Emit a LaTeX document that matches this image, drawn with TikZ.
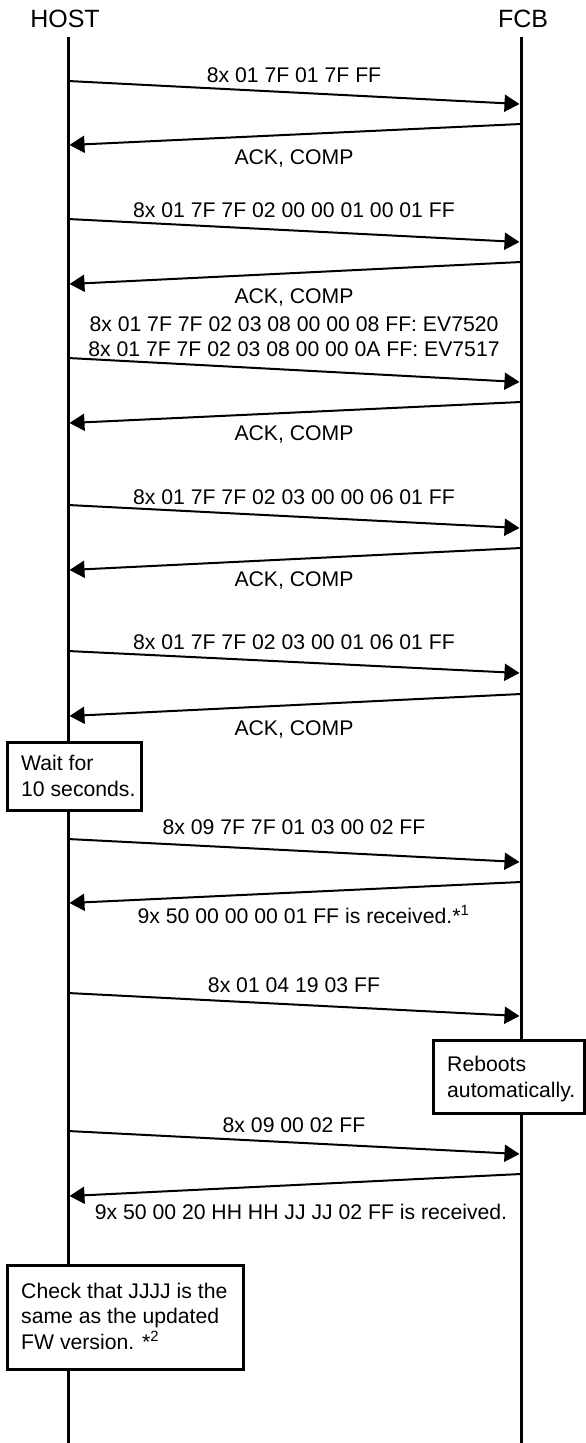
\documentclass[tikz,border=0pt]{standalone}
\usepackage{fontspec}
\setmainfont{Liberation Sans}
\usetikzlibrary{arrows.meta}
\begin{document}
\begin{tikzpicture}[x=1pt,y=-1pt,
  lifeline/.style={line width=3pt},
  msg/.style={line width=2pt,-{Triangle[length=15pt,width=17pt]}},
  lbl/.style={anchor=base,inner sep=0pt,font=\fontsize{21.2}{25}\selectfont},
  ttl/.style={anchor=base,inner sep=0pt,font=\fontsize{25}{29}\selectfont},
  notebox/.style={draw,line width=3pt,fill=white,anchor=north west,inner sep=0pt,outer sep=0pt},
  notetext/.style={anchor=base west,inner sep=0pt,font=\fontsize{21.2}{25}\selectfont}]
\useasboundingbox (0,0) rectangle (586,1443);

% participants
\node[ttl] (host) at (65,27) {HOST};
\node[ttl] (fcb) at (523,27) {FCB};
\coordinate (htop) at (68,37);
\coordinate (hbot) at (68,1443);
\coordinate (ftop) at (521,37);
\coordinate (fbot) at (521,1443);
\draw[lifeline] (htop) -- (hbot);
\draw[lifeline] (ftop) -- (fbot);

% notes
\node[notebox,minimum width=133.5,minimum height=67.5] (wait) at (7.5,742.5) {};
\node[notetext] (wait1) at (21,770) {Wait for};
\node[notetext] (wait2) at (21,796) {10 seconds.};

\node[notebox,minimum width=151,minimum height=73] (reboot) at (433.5,1040) {};
\node[notetext] (reboot1) at (447,1071) {Reboots};
\node[notetext] (reboot2) at (447,1097) {automatically.};

\node[notebox,minimum width=235.5,minimum height=104] (check) at (7.5,1265) {};
\node[notetext] (check1) at (21,1298) {Check that JJJJ is the};
\node[notetext] (check2) at (21,1323.5) {same as the updated};
\node[notetext] (check3) at (21,1349) {FW version. *\textsuperscript{2}};

% messages
\coordinate (h1) at (68,81);    \coordinate (f1) at (519.5,104);
\coordinate (f2) at (521,124);  \coordinate (h2) at (69.5,145);
\coordinate (h3) at (68,219);   \coordinate (f3) at (519.5,242);
\coordinate (f4) at (521,262);  \coordinate (h4) at (69.5,284);
\coordinate (h5) at (68,358);   \coordinate (f5) at (519.5,382);
\coordinate (f6) at (521,402);  \coordinate (h6) at (69.5,423);
\coordinate (h7) at (68,505);   \coordinate (f7) at (519.5,528);
\coordinate (f8) at (521,548);  \coordinate (h8) at (69.5,570);
\coordinate (h9) at (68,651);   \coordinate (f9) at (519.5,673);
\coordinate (f10) at (521,694); \coordinate (h10) at (69.5,716);
\coordinate (h11) at (68,839);  \coordinate (f11) at (519.5,862);
\coordinate (f12) at (521,882); \coordinate (h12) at (69.5,903);
\coordinate (h13) at (68,993);  \coordinate (f13) at (519.5,1016);
\coordinate (h14) at (68,1131); \coordinate (f14) at (519.5,1154);
\coordinate (f15) at (521,1174);\coordinate (h15) at (69.5,1196);

\draw[msg] (h1) -- (f1);
\draw[msg] (f2) -- (h2);
\draw[msg] (h3) -- (f3);
\draw[msg] (f4) -- (h4);
\draw[msg] (h5) -- (f5);
\draw[msg] (f6) -- (h6);
\draw[msg] (h7) -- (f7);
\draw[msg] (f8) -- (h8);
\draw[msg] (h9) -- (f9);
\draw[msg] (f10) -- (h10);
\draw[msg] (h11) -- (f11);
\draw[msg] (f12) -- (h12);
\draw[msg] (h13) -- (f13);
\draw[msg] (h14) -- (f14);
\draw[msg] (f15) -- (h15);

% labels
\node[lbl] (l1) at (294,82) {8x 01 7F 01 7F FF};
\node[lbl] (l2) at (294,164) {ACK, COMP};
\node[lbl] (l3) at (294,217) {8x 01 7F 7F 02 00 00 01 00 01 FF};
\node[lbl] (l4) at (294,303) {ACK, COMP};
\node[lbl] (l5a) at (294,331) {8x 01 7F 7F 02 03 08 00 00 08 FF: EV7520};
\node[lbl] (l5b) at (294,356) {8x 01 7F 7F 02 03 08 00 00 0A FF: EV7517};
\node[lbl] (l6) at (294,440) {ACK, COMP};
\node[lbl] (l7) at (294,504) {8x 01 7F 7F 02 03 00 00 06 01 FF};
\node[lbl] (l8) at (294,586) {ACK, COMP};
\node[lbl] (l9) at (294,649) {8x 01 7F 7F 02 03 00 01 06 01 FF};
\node[lbl] (l10) at (294,735) {ACK, COMP};
\node[lbl] (l11) at (294,834) {8x 09 7F 7F 01 03 00 02 FF};
\node[lbl] (l12) at (303.5,923) {9x 50 00 00 00 01 FF is received.*\textsuperscript{1}};
\node[lbl] (l13) at (294,992) {8x 01 04 19 03 FF};
\node[lbl] (l14) at (294,1132) {8x 09 00 02 FF};
\node[lbl] (l15) at (301,1219) {9x 50 00 20 HH HH JJ JJ 02 FF is received.};
\end{tikzpicture}
\end{document}
